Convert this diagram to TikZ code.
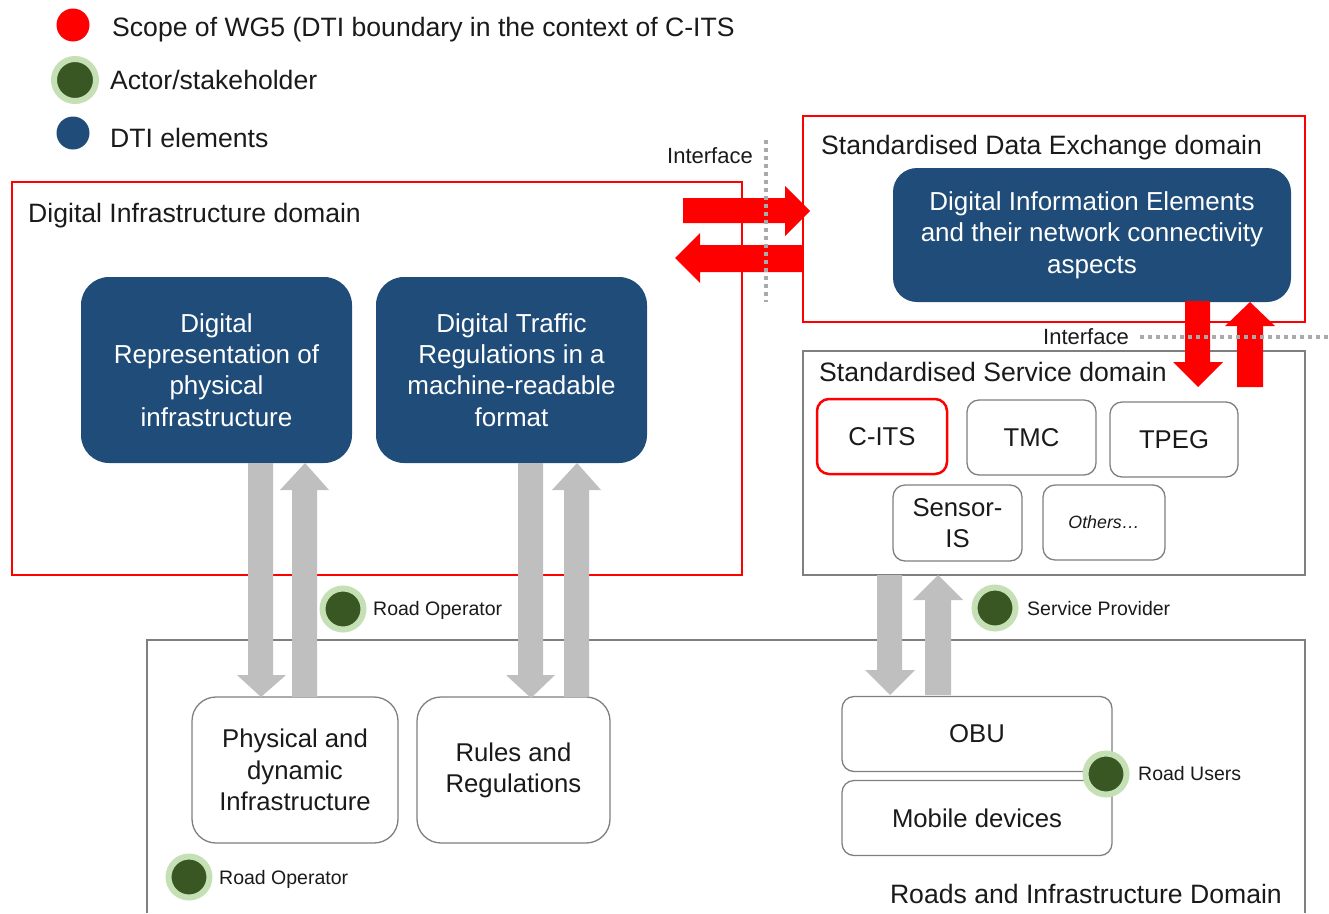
\documentclass[tikz,border=0pt]{standalone}
\usepackage{fontspec}
\setmainfont{Liberation Sans}
\definecolor{dtiblue}{RGB}{31,76,120}
\definecolor{actordark}{RGB}{56,87,35}
\definecolor{actorring}{RGB}{197,224,180}
\definecolor{arrgray}{RGB}{191,191,191}
\definecolor{boxgray}{RGB}{127,127,127}
\definecolor{txt}{RGB}{26,26,26}
\definecolor{dotgray}{RGB}{170,170,170}
\begin{document}
\begin{tikzpicture}[x=1pt,y=-1pt,
  every node/.style={text=txt},
  redframe/.style={draw=red,line width=2.5pt},
  grayframe/.style={draw=boxgray,line width=1.4pt},
  bluebox/.style={fill=dtiblue,rounded corners=28pt,text=white,align=center,
     font=\fontsize{26}{31.3}\selectfont,inner sep=0pt},
  whitebox/.style={draw=boxgray,line width=1.3pt,fill=white,rounded corners=14pt,align=center,
     font=\fontsize{25.7}{31.3}\selectfont,inner sep=0pt},
  actor/.style={circle,fill=actordark,draw=actorring,line width=6pt,minimum size=41pt,inner sep=0pt},
  lbl/.style={font=\fontsize{19.5}{23}\selectfont,anchor=base west,inner sep=0pt},
  dom/.style={font=\fontsize{26.6}{30}\selectfont,inner sep=0pt},
  iftxt/.style={font=\fontsize{22}{25}\selectfont,inner sep=0pt},
  ifdots/.style={draw=dotgray,line width=4pt,dash pattern=on 4pt off 4pt}
]
\useasboundingbox (0,0) rectangle (1329,913);

% ---------- legend ----------
\node[circle,fill=red,minimum size=33pt,inner sep=0pt] (lr) at (73,25) {};
\node[dom,anchor=base west] (lrt) at (112,36) {Scope of WG5 (DTI boundary in the context of C-ITS};
\node[actor,minimum size=42pt] (lg) at (75,80) {};
\node[dom,anchor=base west] (lgt) at (110,89) {Actor/stakeholder};
\node[circle,fill=dtiblue,minimum size=33pt,inner sep=0pt] (lb) at (73,133) {};
\node[dom,anchor=base west] (lbt) at (110,147) {DTI elements};

% ---------- domains ----------
\draw[redframe] (12,182) rectangle (742,575);
\node[dom,anchor=base west] (did) at (28,222.6) {Digital Infrastructure domain};

\draw[redframe] (803,116) rectangle (1305,322);
\node[dom,anchor=base west] (sde) at (821,154.6) {Standardised Data Exchange domain};

\draw[grayframe] (803,351) rectangle (1305,575);
\node[dom,anchor=base west] (ssd) at (819,381.6) {Standardised Service domain};

\draw[grayframe] (147,913) -- (147,640) -- (1305,640) -- (1305,913);
\node[dom,anchor=base east] (rid) at (1282,903.6) {Roads and Infrastructure Domain};

% ---------- DTI elements ----------
\node[bluebox,minimum width=398pt,minimum height=134pt,rounded corners=24pt] (die) at (1092,235)
  {Digital Information Elements\\and their network connectivity\\aspects};
\node[bluebox,minimum width=271pt,minimum height=186pt] (drp) at (216.5,370)
  {Digital\\Representation of\\physical\\infrastructure};
\node[bluebox,minimum width=271pt,minimum height=186pt] (dtr) at (511.5,370)
  {Digital Traffic\\Regulations in a\\machine-readable\\format};

% ---------- service boxes ----------
\node[whitebox,draw=red,line width=2.5pt,minimum width=130pt,minimum height=75pt,rounded corners=12pt] (cits) at (882,436.5) {C-ITS};
\node[whitebox,minimum width=129pt,minimum height=75pt,rounded corners=12pt] (tmc) at (1031.5,437.5) {TMC};
\node[whitebox,minimum width=128pt,minimum height=75pt,rounded corners=12pt] (tpeg) at (1174,439.5) {TPEG};
\node[whitebox,minimum width=129pt,minimum height=76pt,rounded corners=12pt] (sis) at (957.5,523) {Sensor-\\IS};
\node[whitebox,minimum width=122pt,minimum height=75pt,rounded corners=12pt,font=\fontsize{17.8}{20}\selectfont\itshape] (oth) at (1104,522.5) {Others\ldots};

% ---------- road domain boxes ----------
\node[whitebox,minimum width=206pt,minimum height=146pt,rounded corners=24pt] (pdi) at (295,770)
  {Physical and\\dynamic\\Infrastructure};
\node[whitebox,minimum width=193pt,minimum height=146pt,rounded corners=24pt] (rar) at (513.5,770)
  {Rules and\\Regulations};
\node[whitebox,minimum width=270pt,minimum height=75pt,rounded corners=12pt] (obu) at (977,734) {OBU};
\node[whitebox,minimum width=270pt,minimum height=75pt,rounded corners=12pt] (mob) at (977,818) {Mobile devices};

% ---------- gray arrows ----------
\fill[arrgray] (248,463) -- (273,463) -- (273,675) -- (286,675) -- (261,697) -- (237,675) -- (248,675) -- cycle;
\fill[arrgray] (292,697) -- (317,697) -- (317,490) -- (329,490) -- (305,463) -- (280,490) -- (292,490) -- cycle;
\fill[arrgray] (518,463) -- (543,463) -- (543,675) -- (555,675) -- (531,698) -- (506,675) -- (518,675) -- cycle;
\fill[arrgray] (564,697) -- (589,697) -- (589,490) -- (601,490) -- (577,463) -- (552,490) -- (564,490) -- cycle;
\fill[arrgray] (877,575) -- (902,575) -- (902,670) -- (915,670) -- (890,695) -- (865,670) -- (877,670) -- cycle;
\fill[arrgray] (925,695) -- (951,695) -- (951,600) -- (963,600) -- (938,575) -- (913,600) -- (925,600) -- cycle;

% ---------- red arrows ----------
\fill[red] (683,198) -- (785,198) -- (785,186) -- (810,211) -- (785,236) -- (785,223) -- (683,223) -- cycle;
\fill[red] (803,245) -- (700,245) -- (700,233) -- (675,258) -- (700,283) -- (700,272) -- (803,272) -- cycle;
\fill[red] (1185,301) -- (1210,301) -- (1210,362) -- (1223,362) -- (1198,387) -- (1173,362) -- (1185,362) -- cycle;
\fill[red] (1237,387) -- (1263,387) -- (1263,326) -- (1275,326) -- (1250,302) -- (1225,326) -- (1237,326) -- cycle;

% ---------- interfaces ----------
\coordinate (if1a) at (766,140);
\coordinate (if1b) at (766,302);
\draw[ifdots] (if1a) -- (if1b);
\node[iftxt,anchor=base east] (ift1) at (753,163.5) {Interface};
\node[iftxt,anchor=base west] (ift2) at (1043,344.5) {Interface};
\coordinate (if2a) at (1140,337);
\coordinate (if2b) at (1329,337);
\draw[ifdots] (if2a) -- (if2b);

% ---------- actors ----------
\node[actor] (ro1) at (343,609) {};
\node[lbl] (ro1t) at (373,615) {Road Operator};
\node[actor] (sp) at (995,608) {};
\node[lbl] (spt) at (1027,615) {Service Provider};
\node[actor] (ru) at (1106,774) {};
\node[lbl] (rut) at (1138,780) {Road Users};
\node[actor] (ro2) at (189,877) {};
\node[lbl] (ro2t) at (219,884) {Road Operator};
\end{tikzpicture}
\end{document}
